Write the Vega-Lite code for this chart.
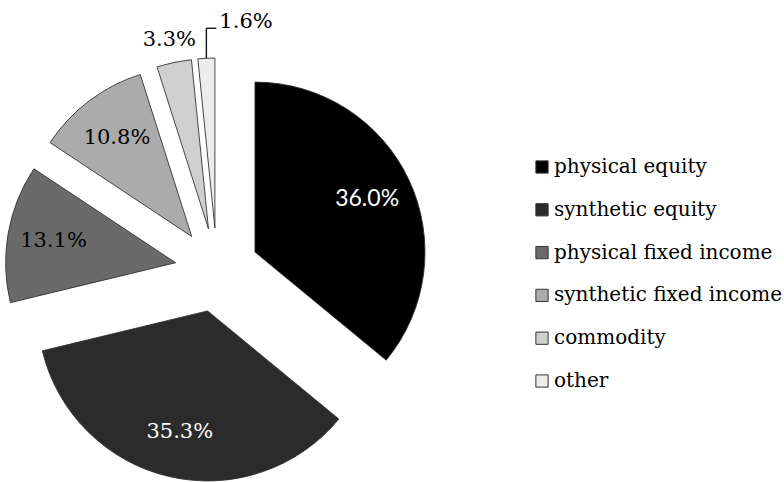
{
  "$schema": "https://vega.github.io/schema/vega-lite/v6.json",
  "width": 784,
  "height": 482,
  "autosize": {"type": "none"},
  "padding": 0,
  "background": "white",
  "config": {"view": {"stroke": null}},
  "data": {"values": [
    {"cat": "physical equity", "share": 36.0, "idx": 1},
    {"cat": "synthetic equity", "share": 35.3, "idx": 2},
    {"cat": "physical fixed income", "share": 13.1, "idx": 3},
    {"cat": "synthetic fixed income", "share": 10.8, "idx": 4},
    {"cat": "commodity", "share": 3.3, "idx": 5},
    {"cat": "other", "share": 1.6, "idx": 6}
  ]},
  "transform": [
    {"joinaggregate": [{"op": "sum", "field": "share", "as": "tot"}]},
    {"window": [{"op": "sum", "field": "share", "as": "cum"}], "sort": [{"field": "idx"}], "frame": [null, 0]},
    {"calculate": "(datum.cum - datum.share) / datum.tot", "as": "f0"},
    {"calculate": "datum.cum / datum.tot", "as": "f1"},
    {"calculate": "(datum.cum - datum.share / 2) / datum.tot", "as": "fm"},
    {"calculate": "2 * PI * datum.fm", "as": "ang"},
    {"calculate": "42 * sin(datum.ang)", "as": "ex"},
    {"calculate": "42 * cos(datum.ang)", "as": "ey"},
    {"calculate": "212 * sin(datum.ang)", "as": "lx"},
    {"calculate": "212 * cos(datum.ang)", "as": "ly"},
    {"calculate": "datum.ly + 30", "as": "ly2"},
    {"calculate": "datum.lx + 10", "as": "lx2"},
    {"calculate": "format(datum.share, '.1f') + '%'", "as": "label"}
  ],
  "encoding": {
    "x": {"field": "ex", "type": "quantitative", "scale": {"domain": [-217, 567], "nice": false, "zero": false}, "axis": null},
    "y": {"field": "ey", "type": "quantitative", "scale": {"domain": [-212, 270], "nice": false, "zero": false}, "axis": null}
  },
  "layer": [
    {
      "mark": {"type": "arc", "radius": 170, "stroke": "#333333", "strokeWidth": 0.9},
      "encoding": {
        "theta": {"field": "f0", "type": "quantitative", "stack": null, "scale": {"domain": [0, 1], "nice": false}},
        "theta2": {"field": "f1"},
        "color": {
          "field": "cat", "type": "nominal",
          "scale": {
            "domain": ["physical equity", "synthetic equity", "physical fixed income", "synthetic fixed income", "commodity", "other"],
            "range": ["#000000", "#2b2b2b", "#6a6a6a", "#ababab", "#cfcfcf", "#ececec"]
          },
          "legend": {
            "title": null, "orient": "none", "legendX": 532, "legendY": 157,
            "symbolType": "square", "symbolSize": 150, "symbolStrokeColor": "#333333", "symbolStrokeWidth": 1,
            "labelFont": "DejaVu Serif", "labelFontSize": 20, "labelColor": "#000000",
            "rowPadding": 22.8, "labelOffset": 2, "padding": 0, "labelLimit": 400
          }
        }
      }
    },
    {
      "transform": [{"filter": "datum.cat == 'physical equity'"}],
      "mark": {"type": "text", "radius": 124, "font": "Lato", "fontSize": 23, "color": "#ffffff", "align": "center", "baseline": "middle"},
      "encoding": {
        "theta": {"field": "fm", "type": "quantitative", "stack": null},
        "text": {"field": "label"}
      }
    },
    {
      "transform": [{"filter": "datum.share > 5 && datum.cat != 'physical equity'"}],
      "mark": {"type": "text", "radius": 124, "font": "DejaVu Serif", "fontSize": 21, "align": "center", "baseline": "middle"},
      "encoding": {
        "theta": {"field": "fm", "type": "quantitative", "stack": null},
        "text": {"field": "label"},
        "color": {"condition": {"test": "datum.share > 30", "value": "#ffffff"}, "value": "#000000"}
      }
    },
    {
      "transform": [{"filter": "datum.cat == 'commodity'"}],
      "mark": {"type": "text", "radius": 193, "font": "DejaVu Serif", "fontSize": 21, "color": "#000000", "align": "center", "baseline": "middle"},
      "encoding": {
        "theta": {"field": "fm", "type": "quantitative", "stack": null},
        "text": {"field": "label"}
      }
    },
    {
      "transform": [{"filter": "datum.cat == 'other'"}],
      "mark": {"type": "rule", "color": "#111111", "strokeWidth": 1.4},
      "encoding": {
        "x": {"field": "lx", "type": "quantitative"},
        "y": {"field": "ly", "type": "quantitative"},
        "y2": {"field": "ly2"}
      }
    },
    {
      "transform": [{"filter": "datum.cat == 'other'"}],
      "mark": {"type": "rule", "color": "#111111", "strokeWidth": 1.4},
      "encoding": {
        "x": {"field": "lx", "type": "quantitative"},
        "x2": {"field": "lx2"},
        "y": {"field": "ly2", "type": "quantitative"}
      }
    },
    {
      "transform": [{"filter": "datum.cat == 'other'"}],
      "mark": {"type": "text", "font": "DejaVu Serif", "fontSize": 21, "color": "#000000", "align": "left", "baseline": "alphabetic", "dx": 13},
      "encoding": {
        "x": {"field": "lx", "type": "quantitative"},
        "y": {"field": "ly2", "type": "quantitative"},
        "text": {"field": "label"}
      }
    }
  ]
}
